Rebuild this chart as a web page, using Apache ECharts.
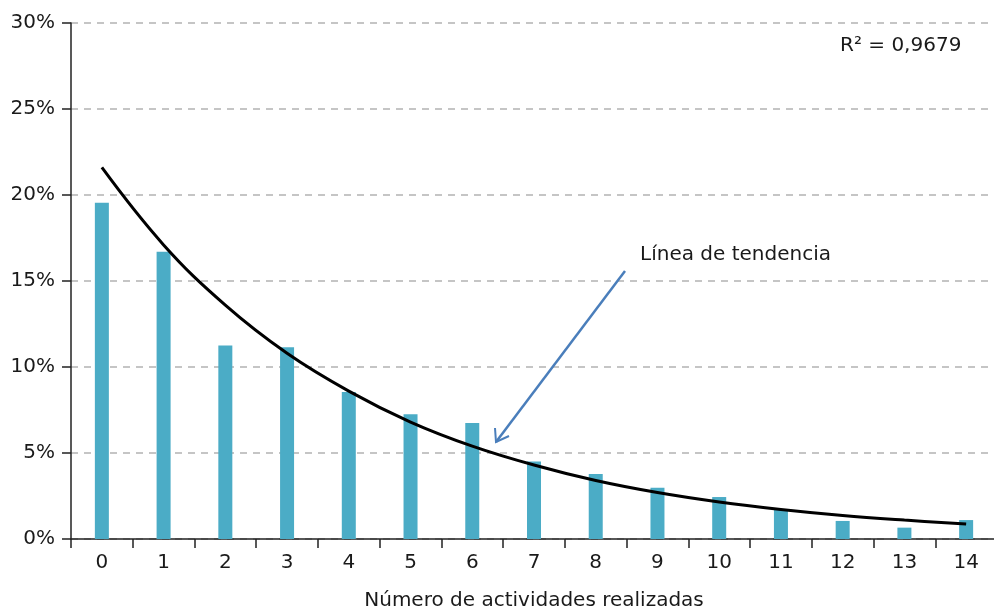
<!DOCTYPE html>
<html>
<head>
<meta charset="utf-8">
<script src="https://cdn.jsdelivr.net/npm/echarts@6/dist/echarts.min.js"></script>
<style>
  html, body { margin: 0; padding: 0; background: #fff; }
  #chart { width: 994px; height: 610px; }
</style>
</head>
<body>
<div id="chart"></div>
<script>
// datos
const categorias = ["0", "1", "2", "3", "4", "5", "6", "7", "8", "9", "10", "11", "12", "13", "14"];
const porcentajes = [19.55, 16.7, 11.25, 11.15, 8.55, 7.25, 6.75, 4.5, 3.78, 2.98, 2.44, 1.7, 1.05, 0.66, 1.1];
const tendencia = [21.6, 17.1, 13.6, 10.8, 8.6, 6.8, 5.4, 4.3, 3.4, 2.7, 2.15, 1.72, 1.37, 1.1, 0.87];
const ticksY = [0, 5, 10, 15, 20, 25, 30];

const fuente = "DejaVu Sans";
const colorTexto = "#1a1a1a";

const chart = echarts.init(document.getElementById("chart"));
chart.setOption({
  animation: false,
  textStyle: { fontFamily: fuente },
  grid: { left: 71, top: 23, width: 926, bottom: 71, outerBoundsMode: "none" },
  xAxis: {
    type: "category",
    data: categorias,
    name: "Número de actividades realizadas",
    nameLocation: "middle",
    nameGap: 52,
    nameTextStyle: { fontSize: 20, color: colorTexto, fontFamily: fuente },
    axisLine: { lineStyle: { color: "#222", width: 1.5 } },
    axisTick: { show: true, length: 9, lineStyle: { color: "#222", width: 1.5 } },
    axisLabel: { fontSize: 20, color: colorTexto, margin: 14, fontFamily: fuente }
  },
  yAxis: {
    type: "value",
    min: ticksY[0],
    max: ticksY[ticksY.length - 1],
    interval: 5,
    axisLine: { show: true, lineStyle: { color: "#222", width: 1.5 } },
    axisTick: { show: true, length: 9, lineStyle: { color: "#222", width: 1.5 } },
    axisLabel: { fontSize: 20, color: colorTexto, margin: 16, fontFamily: fuente, formatter: "{value}%" },
    splitLine: { show: true, lineStyle: { color: "#b3b3b3", width: 1.5, type: [7, 6] } }
  },
  series: [
    {
      type: "bar",
      data: porcentajes,
      barWidth: 14,
      itemStyle: { color: "#4bacc6" },
      z: 2
    },
    {
      type: "line",
      data: tendencia,
      smooth: 0.4,
      symbol: "none",
      lineStyle: { color: "#000", width: 3 },
      z: 3
    }
  ],
  graphic: [
    {
      type: "text",
      left: 840,
      top: 36,
      style: { text: "R² = 0,9679", fontSize: 20, fill: colorTexto, fontFamily: fuente }
    },
    {
      type: "text",
      left: 640,
      top: 245,
      style: { text: "Línea de tendencia", fontSize: 20, fill: colorTexto, fontFamily: fuente }
    },
    {
      type: "line",
      shape: { x1: 625, y1: 271, x2: 496, y2: 442 },
      style: { stroke: "#4a7ebb", lineWidth: 2.5 },
      z: 10
    },
    {
      type: "polyline",
      shape: { points: [[495, 428], [496, 442], [509, 436]] },
      style: { stroke: "#4a7ebb", lineWidth: 2, fill: null },
      z: 10
    }
  ]
});
</script>
</body>
</html>
